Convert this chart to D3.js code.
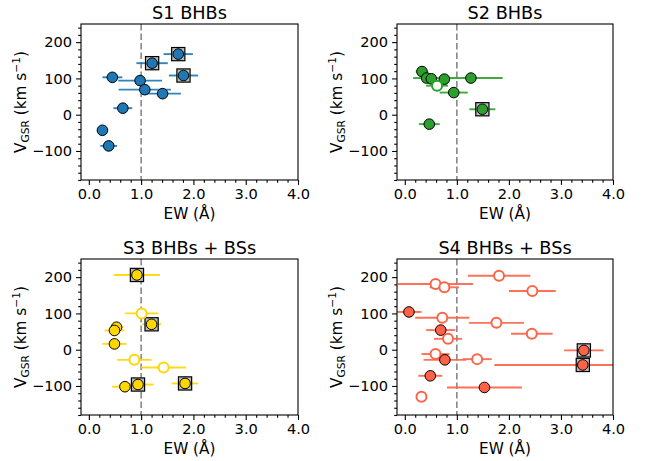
<!DOCTYPE html>
<html>
<head>
<meta charset="utf-8">
<script src="https://cdn.jsdelivr.net/npm/d3@7"></script>
<style>
  html, body { margin: 0; padding: 0; background: #fff; }
  svg { display: block; font-family: "DejaVu Sans", sans-serif; }
</style>
</head>
<body>
<svg id="chart" width="646" height="461"></svg>
<script>
// ---------- data ----------
const panelTitles = ["S1 BHBs", "S2 BHBs", "S3 BHBs + BSs", "S4 BHBs + BSs"];
const panelColors = ["#1f77b4", "#2ca02c", "#ffd700", "#ff6347"];

const s1EW   = [0.26, 0.38, 0.65, 0.45, 0.98, 1.07, 1.41, 1.21, 1.71, 1.81];
const s1Err  = [0.04, 0.16, 0.18, 0.19, 0.42, 0.50, 0.35, 0.30, 0.28, 0.28];
const s1V    = [-43, -86, 18, 103, 94, 69, 58, 142, 167, 108];
const s1Open = [0, 0, 0, 0, 0, 0, 0, 0, 0, 0];
const s1Box  = [0, 0, 0, 0, 0, 0, 0, 1, 1, 1];

const s2EW   = [0.33, 0.42, 0.51, 0.76, 1.27, 0.62, 0.94, 1.49, 0.47];
const s2Err  = [0.12, 0.26, 0.10, 0.10, 0.61, 0.21, 0.27, 0.25, 0.20];
const s2V    = [119, 101, 99, 98, 101, 80, 61, 15, -26];
const s2Open = [0, 0, 0, 0, 0, 1, 0, 0, 0];
const s2Box  = [0, 0, 0, 0, 0, 0, 0, 1, 0];

const s3EW   = [0.92, 1.01, 1.20, 0.53, 0.49, 0.49, 0.87, 1.43, 0.94, 0.69, 1.84];
const s3Err  = [0.44, 0.32, 0.18, 0.13, 0.19, 0.23, 0.33, 0.43, 0.30, 0.25, 0.25];
const s3V    = [206, 100, 70, 62, 53, 16, -28, -49, -96, -102, -93];
const s3Open = [0, 1, 0, 0, 0, 0, 1, 1, 0, 0, 0];
const s3Box  = [1, 0, 1, 0, 0, 0, 0, 0, 1, 0, 1];

const s4EW   = [1.81, 0.59, 0.76, 2.45, 0.08, 0.72, 1.76, 0.69, 2.44, 0.83, 0.59, 0.77, 1.39, 0.49, 1.53, 0.32, 3.44, 3.42];
const s4Err  = [0.60, 0.72, 0.28, 0.45, 0.24, 0.52, 0.53, 0.28, 0.40, 0.27, 0.27, 0.41, 0.28, 0.23, 0.72, 0.10, 0.38, 1.70];
const s4V    = [204, 181, 172, 162, 104, 88, 74, 54, 44, 30, -12, -28, -26, -72, -104, -130, -2, -42];
const s4Open = [1, 1, 1, 1, 0, 1, 1, 0, 1, 1, 1, 0, 1, 0, 0, 1, 0, 0];
const s4Box  = [0, 0, 0, 0, 0, 0, 0, 0, 0, 0, 0, 0, 0, 0, 0, 0, 1, 1];

const xTicks = [0, 1, 2, 3, 4];
const yTicks = [-100, 0, 100, 200];
const xDomain = [-0.15, 4.0];
const yDomain = [-180, 250];
const ewCut = 1.0;

const panelData = [
  [s1EW, s1Err, s1V, s1Open, s1Box],
  [s2EW, s2Err, s2V, s2Open, s2Box],
  [s3EW, s3Err, s3V, s3Open, s3Box],
  [s4EW, s4Err, s4V, s4Open, s4Box]
];

// ---------- layout ----------
const boxes = [
  {x0: 81,  x1: 298, y0: 24,  y1: 180},
  {x0: 397, x1: 613, y0: 24,  y1: 180},
  {x0: 81,  x1: 298, y0: 259, y1: 415},
  {x0: 397, x1: 613, y0: 259, y1: 415}
];

const svg = d3.select("#chart");
const minorX = d3.range(0, 4.0001, 0.2).filter(v => Math.abs(v - Math.round(v)) > 1e-6);
const minorY = d3.range(-180, 250.001, 20).filter(v => v % 100 !== 0);

boxes.forEach((b, i) => {
  const [ew, err, vv, op, bx] = panelData[i];
  const color = panelColors[i];
  const x = d3.scaleLinear().domain(xDomain).range([b.x0, b.x1]);
  const y = d3.scaleLinear().domain(yDomain).range([b.y1, b.y0]);
  const g = svg.append("g");

  const clipId = "clip" + i;
  svg.append("clipPath").attr("id", clipId)
    .append("rect").attr("x", b.x0).attr("y", b.y0)
    .attr("width", b.x1 - b.x0).attr("height", b.y1 - b.y0);

  const pts = ew.map((e, k) => ({ew: e, err: err[k], v: vv[k], open: op[k], box: bx[k]}));

  const plot = g.append("g").attr("clip-path", `url(#${clipId})`);

  // dashed EW cut
  plot.append("line")
    .attr("x1", x(ewCut)).attr("x2", x(ewCut))
    .attr("y1", b.y0).attr("y2", b.y1)
    .attr("stroke", "#808080").attr("stroke-width", 1.5)
    .attr("stroke-dasharray", "6.5,3");

  // error bars
  plot.selectAll("line.err").data(pts).enter().append("line")
    .attr("class", "err")
    .attr("x1", d => x(d.ew - d.err)).attr("x2", d => x(d.ew + d.err))
    .attr("y1", d => y(d.v)).attr("y2", d => y(d.v))
    .attr("stroke", color).attr("stroke-width", 1.9).attr("opacity", 0.9);

  // boxes behind boxed points
  plot.selectAll("rect.box").data(pts.filter(d => d.box)).enter().append("rect")
    .attr("class", "box")
    .attr("x", d => x(d.ew) - 6.6).attr("y", d => y(d.v) - 6.6)
    .attr("width", 13.2).attr("height", 13.2)
    .attr("fill", "#bdbdbd").attr("stroke", "#000").attr("stroke-width", 1.2);

  // markers
  plot.selectAll("circle.pt").data(pts).enter().append("circle")
    .attr("class", "pt")
    .attr("cx", d => x(d.ew)).attr("cy", d => y(d.v))
    .attr("r", d => d.open ? 5.0 : 5.3)
    .attr("fill", d => d.open ? "#fff" : color)
    .attr("stroke", d => d.open ? color : "#000")
    .attr("stroke-width", d => d.open ? 2 : 1);

  // axes
  const xAxis = d3.axisBottom(x).tickValues(xTicks).tickFormat(d3.format(".1f"))
    .tickSize(4.9).tickPadding(3.5);
  const yAxis = d3.axisLeft(y).tickValues(yTicks).tickFormat(d3.format("d"))
    .tickSize(4.9).tickPadding(4.0);
  const xMinor = d3.axisBottom(x).tickValues(minorX).tickFormat("").tickSize(2.8);
  const yMinor = d3.axisLeft(y).tickValues(minorY).tickFormat("").tickSize(2.8);

  const styleAxis = sel => {
    sel.select(".domain").remove();
    sel.selectAll("line").attr("stroke", "#000").attr("stroke-width", 1.1);
    sel.selectAll("text").attr("fill", "#000").style("font-size", "14.6px")
      .style("font-family", "DejaVu Sans, sans-serif");
  };
  g.append("g").attr("transform", `translate(0,${b.y1})`).call(xAxis).call(styleAxis);
  g.append("g").attr("transform", `translate(0,${b.y1})`).call(xMinor).call(styleAxis);
  g.append("g").attr("transform", `translate(${b.x0},0)`).call(yAxis).call(styleAxis);
  g.append("g").attr("transform", `translate(${b.x0},0)`).call(yMinor).call(styleAxis);

  // frame
  g.append("rect")
    .attr("x", b.x0).attr("y", b.y0)
    .attr("width", b.x1 - b.x0).attr("height", b.y1 - b.y0)
    .attr("fill", "none").attr("stroke", "#000").attr("stroke-width", 1.1);

  // title
  g.append("text")
    .attr("x", (b.x0 + b.x1) / 2).attr("y", b.y0 - 5.5)
    .attr("text-anchor", "middle").style("font-size", "17.7px").attr("fill", "#000")
    .text(panelTitles[i]);

  // x label
  g.append("text")
    .attr("x", (b.x0 + b.x1) / 2).attr("y", b.y1 + 38.5)
    .attr("text-anchor", "middle").style("font-size", "15.3px").attr("fill", "#000")
    .text("EW (Å)");

  // y label
  const yl = g.append("text")
    .attr("transform", `translate(${b.x0 - 55},${(b.y0 + b.y1) / 2}) rotate(-90)`)
    .attr("text-anchor", "middle").style("font-size", "15.3px").attr("fill", "#000");
  yl.append("tspan").text("V");
  yl.append("tspan").attr("dy", 3.2).style("font-size", "10.7px").text("GSR");
  yl.append("tspan").attr("dy", -3.2).text(" (km s");
  yl.append("tspan").attr("dy", -6).style("font-size", "10.7px").text("−1");
  yl.append("tspan").attr("dy", 6).text(")");
});
</script>
</body>
</html>
